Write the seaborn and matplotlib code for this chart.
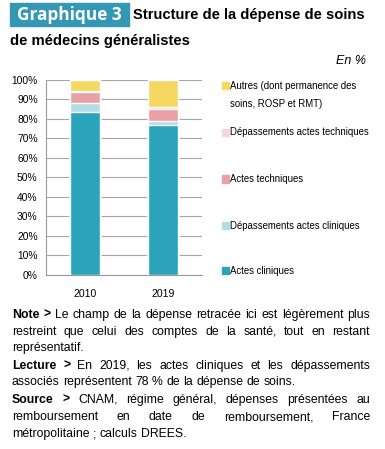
import matplotlib
matplotlib.use('Agg')
import numpy as np
import pandas as pd
import matplotlib.pyplot as plt
from matplotlib.patches import Rectangle
import seaborn as sns

sns.set_style('white')
plt.rcParams['font.family'] = ['Liberation Sans', 'DejaVu Sans']
plt.rcParams['text.color'] = 'black'
plt.rcParams['xtick.color'] = 'black'
plt.rcParams['ytick.color'] = 'black'

W, H = 385, 449

# data (in %)
years = ['2010', '2019']
categories = ['Actes cliniques', 'Dépassements actes cliniques', 'Actes techniques',
              'Dépassements actes techniques', 'Autres (dont permanence des\nsoins, ROSP et RMT)']
actes_cliniques = [83.7, 76.6]
dep_cliniques = [4.3, 2.0]
actes_techniques = [5.5, 6.4]
dep_techniques = [0.9, 0.8]
autres = [5.6, 14.2]
colors = ['#2BA3BB', '#B5DCE5', '#E9A1A4', '#F6D8D8', '#F4D862']

series = [actes_cliniques, dep_cliniques, actes_techniques, dep_techniques, autres]
df = pd.DataFrame({'annee': years})
cum = np.zeros(len(years))
for i, s in enumerate(series):
    cum = cum + np.array(s)
    df['c%d' % i] = cum

fig = plt.figure(figsize=(W / 100, H / 100), dpi=100)
ax = fig.add_axes([46 / W, 1 - 275 / H, 156 / W, (275 - 79.7) / H])

# stacked bars: draw cumulative totals from the top down
for i in reversed(range(len(series))):
    sns.barplot(data=df, x='annee', y='c%d' % i, color=colors[i], width=0.385,
                saturation=1, ax=ax, zorder=3)

ax.set_ylim(0, 100)
ax.set_xlim(-0.5, 1.5)
ax.set_yticks(np.arange(0, 101, 10))
ax.set_yticklabels(['%d%%' % v for v in range(0, 101, 10)], fontsize=7.4)
ax.set_xticks([0, 1])
ax.set_xticklabels(years, fontsize=7.6)
ax.set_xticks([-0.5, 0.5, 1.5], minor=True)
ax.tick_params(axis='x', which='major', length=0, pad=10)
ax.tick_params(axis='x', which='minor', length=4, color='#999999', direction='out')
ax.tick_params(axis='y', length=4, color='#999999', direction='out', pad=2)
ax.set_xlabel('')
ax.set_ylabel('')
ax.yaxis.grid(True, color='#A6A6A6', linewidth=0.8, zorder=0)
for sp in ['top', 'right']:
    ax.spines[sp].set_visible(False)
for sp in ['left', 'bottom']:
    ax.spines[sp].set_color('#999999')
    ax.spines[sp].set_linewidth(0.8)


def fx(x):
    return x / W


def fy(y):
    return 1 - y / H


# legend drawn by hand at the right of the plot
leg_y = [85.7, 132, 179, 225.7, 270.7]
for k, i in enumerate(reversed(range(len(categories)))):
    y = leg_y[k]
    fig.add_artist(Rectangle((fx(222), fy(y + 3.5)), 7 / W, 7 / H, color=colors[i],
                             transform=fig.transFigure))
    for j, part in enumerate(categories[i].split('\n')):
        fig.text(fx(230.5), fy(y + 18 * j), part, fontsize=6.9, ha='left', va='center')

# title
fig.add_artist(Rectangle((fx(10), fy(26)), 119 / W, 23 / H, color='#3498B4',
                         transform=fig.transFigure))
fig.text(fx(69.5), fy(15), 'Graphique 3', color='white', fontsize=12.4, weight='bold',
         family=['Open Sans', 'DejaVu Sans'], ha='center', va='center')
fig.text(fx(133), fy(15.5), 'Structure de la dépense de soins', fontsize=10.6, weight='bold',
         ha='left', va='center')
fig.text(fx(10), fy(40.5), 'de médecins généralistes', fontsize=10.6, weight='bold',
         ha='left', va='center')
fig.text(fx(366), fy(61), 'En %', fontsize=9, style='italic', ha='right', va='center')

# footer notes, justified line by line
FS = 8.8
L, R = 12, 370
lines = [
    ('Note >', 'Le champ de la dépense retracée ici est légèrement plus', True),
    ('', 'restreint que celui des comptes de la santé, tout en restant', True),
    ('', 'représentatif.', False),
    ('Lecture >', 'En 2019, les actes cliniques et les dépassements', True),
    ('', 'associés représentent 78 % de la dépense de soins.', False),
    ('Source >', 'CNAM, régime général, dépenses présentées au', True),
    ('', 'remboursement en date de remboursement, France', True),
    ('', 'métropolitaine ; calculs DREES.', False),
]
line_y = [315, 331.7, 348.3, 365.7, 382.3, 399.7, 417, 434.3]

fig.canvas.draw()
rend = fig.canvas.get_renderer()


def width(s, weight):
    t = fig.text(0, 0, s, fontsize=FS, weight=weight)
    w = t.get_window_extent(rend).width
    t.remove()
    return w


space = width('a a', 'normal') - width('aa', 'normal')
for (bold, rest, justify), y in zip(lines, line_y):
    words = [(w, 'bold') for w in bold.split()] + [(w, 'normal') for w in rest.split()]
    widths = [width(w, wt) for w, wt in words]
    gap = (R - L - sum(widths)) / (len(words) - 1) if justify else space
    x = L
    for (w, wt), ww in zip(words, widths):
        fig.text(fx(x), fy(y), w, fontsize=FS, weight=wt, ha='left', va='center')
        x += ww + gap

fig.savefig('out.png', dpi=100)
